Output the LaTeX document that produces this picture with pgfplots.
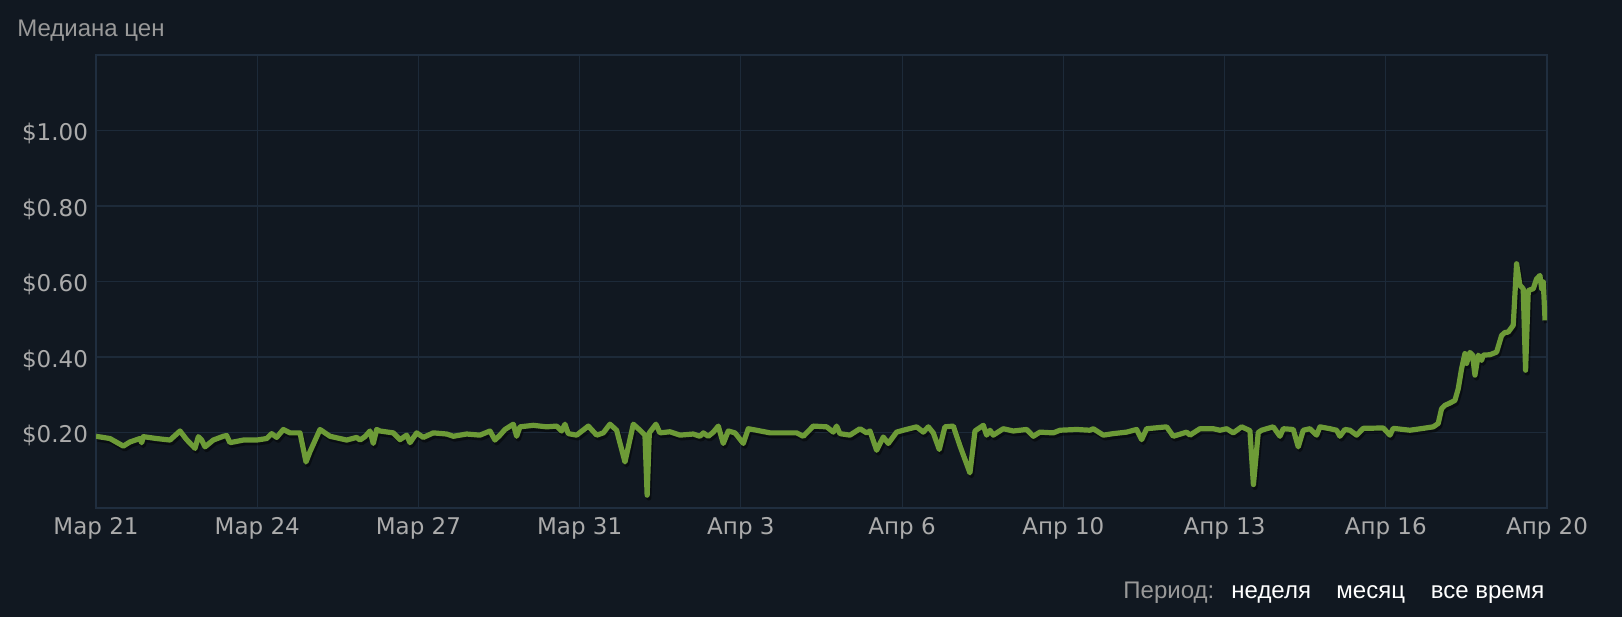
\documentclass[border=0pt]{standalone}
\usepackage{fontspec}
\setmainfont{Liberation Sans}
\newfontfamily\tickfont{DejaVu Sans}
\usepackage{pgfplots}
\pgfplotsset{compat=1.18}
\usepackage{pgfplotstable}
\definecolor{bgc}{HTML}{111821}
\definecolor{gridc}{HTML}{1D2A39}
\definecolor{framec}{HTML}{202E3F}
\definecolor{linec}{HTML}{6D9B37}
\definecolor{tickc}{HTML}{ABABAB}
\definecolor{titlec}{HTML}{999999}

% day since Mar 21, median price in $
\pgfplotstableread{
d p
0.000 0.190
0.289 0.184
0.565 0.164
0.703 0.175
0.910 0.184
0.944 0.173
0.979 0.189
1.254 0.184
1.530 0.180
1.737 0.204
1.874 0.181
2.047 0.158
2.116 0.189
2.185 0.180
2.254 0.162
2.425 0.180
2.632 0.190
2.701 0.192
2.770 0.173
3.046 0.180
3.322 0.180
3.528 0.184
3.632 0.197
3.735 0.187
3.873 0.208
4.011 0.199
4.218 0.199
4.342 0.122
4.424 0.149
4.631 0.208
4.838 0.190
5.183 0.180
5.390 0.187
5.458 0.180
5.561 0.189
5.665 0.204
5.733 0.171
5.803 0.208
5.871 0.204
6.147 0.199
6.285 0.181
6.423 0.193
6.492 0.173
6.630 0.199
6.767 0.187
6.974 0.199
7.250 0.196
7.388 0.190
7.663 0.196
7.939 0.193
8.146 0.204
8.249 0.180
8.352 0.193
8.456 0.208
8.628 0.222
8.697 0.190
8.766 0.215
9.041 0.219
9.317 0.215
9.524 0.217
9.627 0.204
9.696 0.222
9.765 0.197
9.937 0.193
10.179 0.217
10.351 0.193
10.489 0.199
10.626 0.222
10.764 0.206
10.937 0.122
11.109 0.222
11.247 0.206
11.350 0.193
11.395 0.034
11.440 0.199
11.577 0.222
11.660 0.199
11.867 0.202
12.074 0.193
12.349 0.196
12.487 0.190
12.556 0.199
12.659 0.190
12.763 0.201
12.866 0.217
12.969 0.171
13.073 0.204
13.211 0.199
13.383 0.171
13.486 0.210
13.659 0.206
13.934 0.199
14.210 0.199
14.486 0.199
14.624 0.190
14.830 0.217
15.106 0.215
15.244 0.201
15.313 0.217
15.381 0.197
15.588 0.193
15.795 0.210
15.933 0.199
16.002 0.204
16.140 0.153
16.277 0.188
16.381 0.171
16.553 0.201
16.691 0.206
16.967 0.215
17.104 0.201
17.208 0.215
17.311 0.199
17.435 0.155
17.552 0.215
17.725 0.217
17.862 0.165
18.069 0.093
18.173 0.204
18.345 0.219
18.414 0.193
18.483 0.206
18.551 0.193
18.758 0.210
18.965 0.204
19.241 0.208
19.379 0.190
19.516 0.201
19.792 0.199
19.930 0.206
20.275 0.208
20.550 0.206
20.619 0.210
20.826 0.193
21.032 0.197
21.308 0.201
21.515 0.208
21.619 0.181
21.722 0.210
22.136 0.215
22.273 0.190
22.549 0.201
22.618 0.193
22.824 0.210
23.100 0.210
23.238 0.206
23.376 0.210
23.513 0.199
23.686 0.215
23.858 0.205
23.930 0.062
24.030 0.200
24.099 0.206
24.203 0.210
24.340 0.215
24.478 0.190
24.547 0.210
24.754 0.208
24.857 0.162
24.960 0.206
25.098 0.210
25.236 0.193
25.305 0.215
25.512 0.210
25.650 0.206
25.718 0.190
25.822 0.208
25.925 0.206
26.063 0.193
26.201 0.211
26.614 0.212
26.752 0.193
26.821 0.211
27.166 0.206
27.441 0.211
27.648 0.215
27.751 0.224
27.820 0.263
27.889 0.272
27.993 0.278
28.096 0.285
28.165 0.316
28.234 0.369
28.303 0.409
28.337 0.383
28.406 0.412
28.461 0.405
28.510 0.352
28.578 0.405
28.647 0.391
28.682 0.405
28.819 0.406
28.958 0.413
29.061 0.457
29.130 0.465
29.198 0.466
29.302 0.484
29.371 0.647
29.440 0.590
29.508 0.581
29.557 0.365
29.613 0.576
29.716 0.581
29.785 0.607
29.854 0.616
29.889 0.581
29.923 0.599
29.960 0.497
}\prices

\begin{document}
\begin{tikzpicture}[x=1pt,y=1pt]
\fill[bgc] (0,0) rectangle (811,308.5);
\begin{axis}[
  at={(48pt,54.5pt)}, anchor=south west,
  width=725.5pt, height=226.5pt, scale only axis,
  xmin=0, xmax=30, ymin=0, ymax=1.2,
  axis background/.style={fill=bgc},
  axis line style={framec, line width=1.4pt},
  grid=major,
  grid style={gridc, line width=0.6pt},
  major tick length=0pt,
  xtick={0,3.3333,6.6667,10,13.3333,16.6667,20,23.3333,26.6667,30},
  xticklabels={Мар 21,Мар 24,Мар 27,Мар 31,Апр 3,Апр 6,Апр 10,Апр 13,Апр 16,Апр 20},
  ytick={0.2,0.4,0.6,0.8,1.0},
  yticklabels={\$0.20,\$0.40,\$0.60,\$0.80,\$1.00},
  tick label style={font=\tickfont\fontsize{11.5}{13}\selectfont, text=tickc},
  xticklabel style={anchor=base, yshift=-13pt},
  yticklabel style={anchor=east, xshift=-0.5pt, yshift=-1.5pt},
]
\addplot[black, opacity=0.45, line width=2.6pt, line join=round, xshift=0.8pt, yshift=-1.4pt] table[x=d, y=p] {\prices};
\addplot[linec, line width=2.6pt, line join=round] table[x=d, y=p] {\prices};
\end{axis}
\node[anchor=base west, inner sep=0, text=titlec, font=\fontsize{12}{14}\selectfont] at (8.5,290) {Медиана цен};
\node[anchor=base west, inner sep=0, text=titlec, font=\fontsize{12}{14}\selectfont] at (561.5,9.5) {Период:};
\node[anchor=base west, inner sep=0, text=white, font=\fontsize{12}{14}\selectfont] at (615.5,9.5) {неделя};
\node[anchor=base west, inner sep=0, text=white, font=\fontsize{12}{14}\selectfont] at (668,9.5) {месяц};
\node[anchor=base west, inner sep=0, text=white, font=\fontsize{12}{14}\selectfont] at (715.25,9.5) {все время};
\end{tikzpicture}
\end{document}
